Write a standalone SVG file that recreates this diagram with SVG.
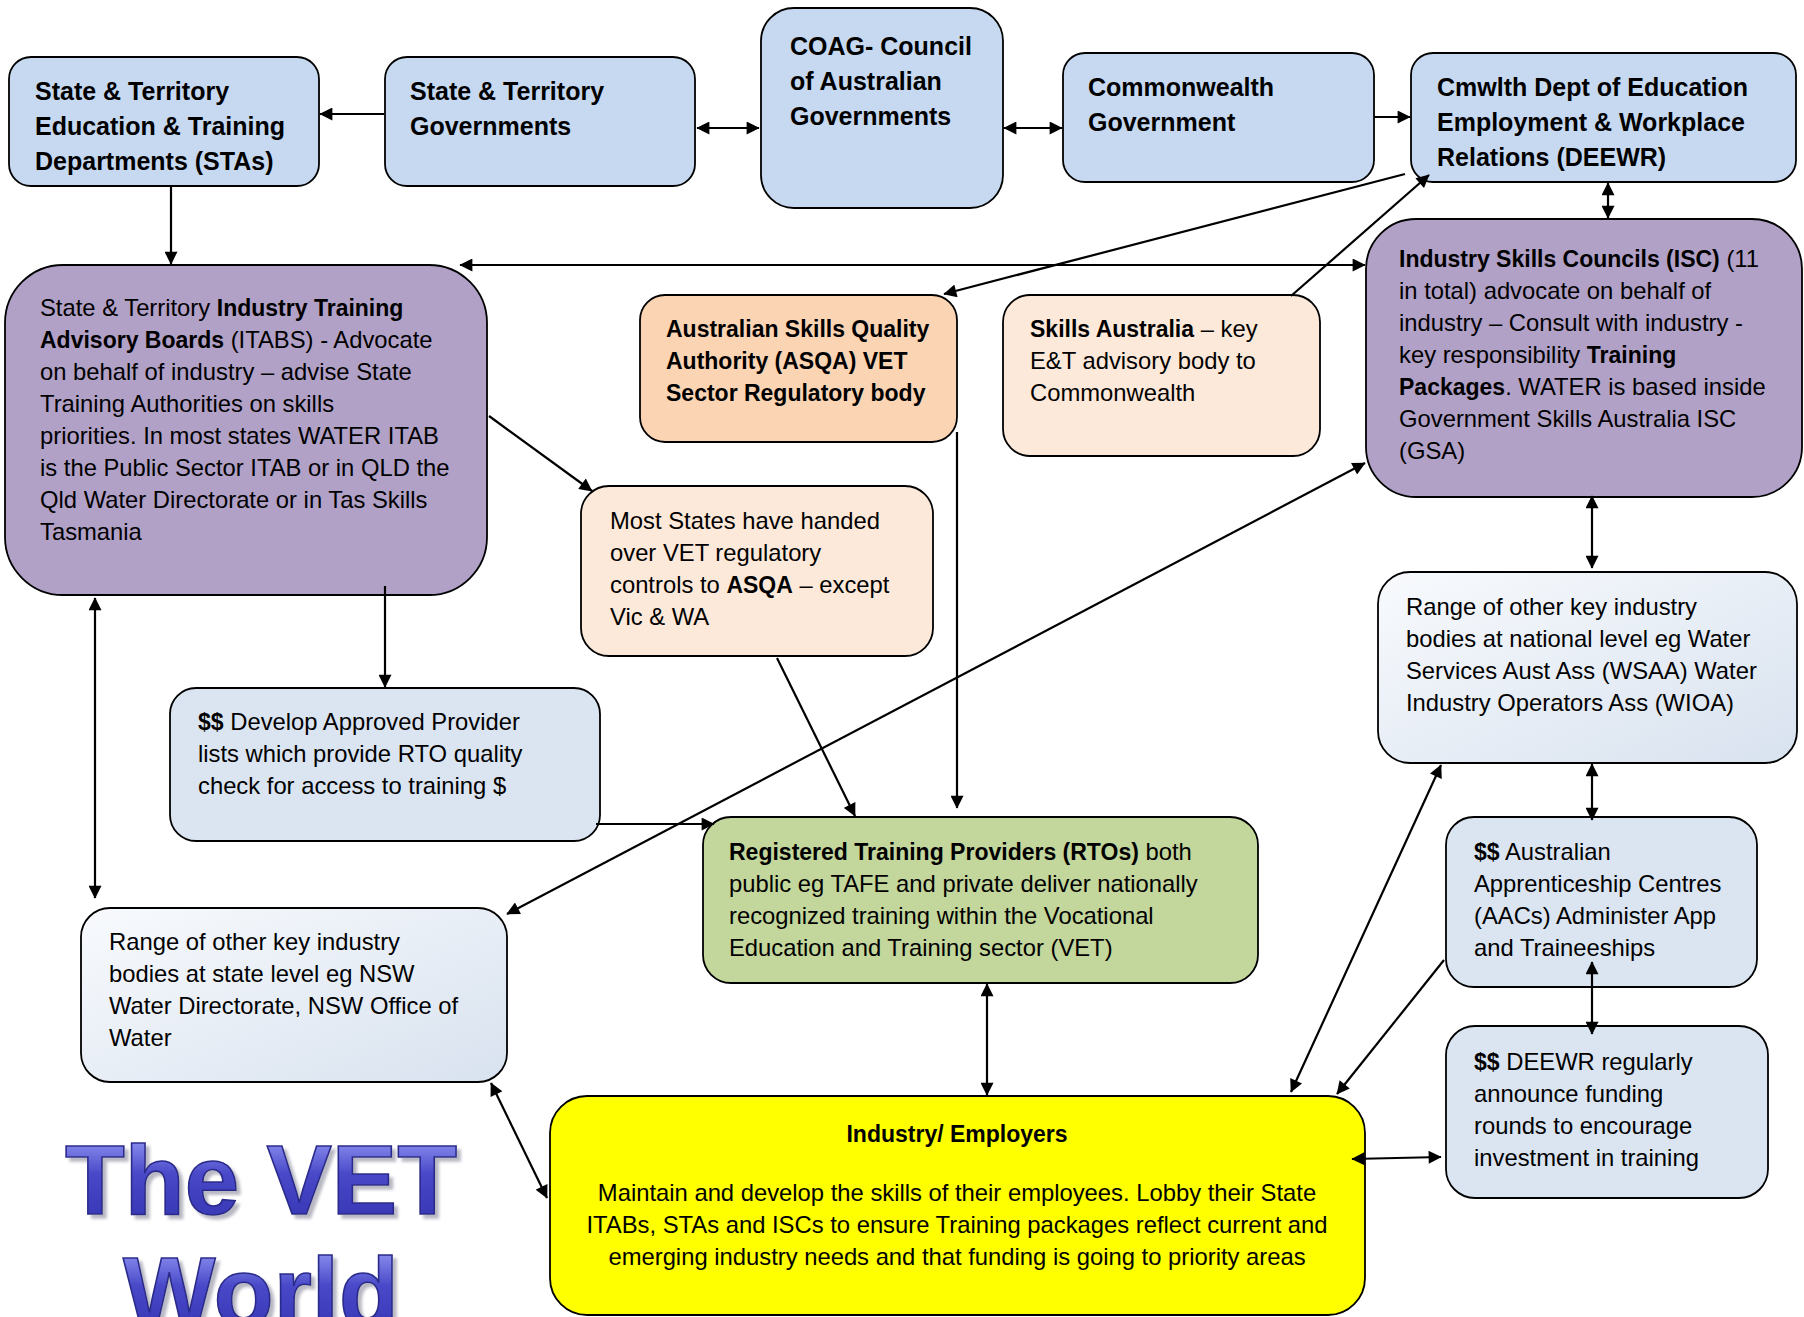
<svg xmlns="http://www.w3.org/2000/svg" width="1804" height="1317" viewBox="0 0 1804 1317">
<style>
.bx{stroke:#000;stroke-width:1.8}
.t{font-family:'Liberation Sans',Arial,sans-serif;font-size:23.8px;fill:#000}
.tt{font-family:'Liberation Sans',Arial,sans-serif;font-size:25px;font-weight:bold;fill:#000}
.b{font-weight:bold;font-size:23px}
.yb{font-size:23.8px}
.c{fill:none;stroke:#000;stroke-width:2.2}
.wa{font-family:'Liberation Sans',Arial,sans-serif;font-weight:bold;font-size:98px;fill:url(#wg);stroke:#2b2b8c;stroke-width:1.6;text-anchor:middle;filter:url(#sh)}
</style>
<defs>
<marker id="ah" viewBox="0 0 10 10" refX="9.5" refY="5" markerWidth="15" markerHeight="13" markerUnits="userSpaceOnUse" orient="auto-start-reverse"><path d="M0,0 L10,5 L0,10 z" fill="#000"/></marker>
<linearGradient id="lg" x1="0" y1="0" x2="1" y2="1"><stop offset="0" stop-color="#f8fafd"/><stop offset="1" stop-color="#d8e2ef"/></linearGradient>
<linearGradient id="wg" x1="0" y1="0" x2="0" y2="1"><stop offset="0" stop-color="#a8acff"/><stop offset="0.45" stop-color="#4848c8"/><stop offset="0.8" stop-color="#3a3ab8"/><stop offset="1" stop-color="#7a7ae8"/></linearGradient>
<filter id="sh" x="-10%" y="-20%" width="130%" height="150%"><feDropShadow dx="4" dy="4" stdDeviation="1.5" flood-color="#9a9aaa" flood-opacity="0.7"/></filter>
</defs>
<rect width="1804" height="1317" fill="#fff"/>

<g id="stas"><rect class="bx" x="9" y="57" width="310" height="129" rx="22" fill="#c6d9f1"/>
<text class="tt" x="35" y="100">State &amp; Territory</text><text class="tt" x="35" y="135">Education &amp; Training</text><text class="tt" x="35" y="170">Departments (STAs)</text></g>

<g id="stgov"><rect class="bx" x="385" y="57" width="310" height="129" rx="22" fill="#c6d9f1"/>
<text class="tt" x="410" y="100">State &amp; Territory</text><text class="tt" x="410" y="135">Governments</text></g>

<g id="coag"><rect class="bx" x="761" y="8" width="242" height="200" rx="33" fill="#c6d9f1"/>
<text class="tt" x="790" y="55">COAG- Council</text><text class="tt" x="790" y="90">of Australian</text><text class="tt" x="790" y="125">Governments</text></g>

<g id="cwgov"><rect class="bx" x="1063" y="53" width="311" height="129" rx="22" fill="#c6d9f1"/>
<text class="tt" x="1088" y="96">Commonwealth</text><text class="tt" x="1088" y="131">Government</text></g>

<g id="deewr"><rect class="bx" x="1411" y="53" width="385" height="129" rx="22" fill="#c6d9f1"/>
<text class="tt" x="1437" y="96">Cmwlth Dept of Education</text><text class="tt" x="1437" y="131">Employment &amp; Workplace</text><text class="tt" x="1437" y="166">Relations (DEEWR)</text></g>

<g id="itabs"><rect class="bx" x="5" y="265" width="482" height="330" rx="58" fill="#b2a1c7"/>
<text class="t" x="40" y="316">State &amp; Territory <tspan class="b">Industry Training</tspan></text>
<text class="t" x="40" y="348"><tspan class="b">Advisory Boards</tspan> (ITABS) - Advocate</text>
<text class="t" x="40" y="380">on behalf of industry – advise State</text>
<text class="t" x="40" y="412">Training Authorities on skills</text>
<text class="t" x="40" y="444">priorities. In most states WATER ITAB</text>
<text class="t" x="40" y="476">is the Public Sector ITAB or in QLD the</text>
<text class="t" x="40" y="508">Qld Water Directorate or in Tas Skills</text>
<text class="t" x="40" y="540">Tasmania</text></g>

<g id="asqa"><rect class="bx" x="640" y="295" width="317" height="147" rx="25" fill="#fbd4b4"/>
<text class="t b" x="666" y="337">Australian Skills Quality</text><text class="t b" x="666" y="369">Authority (ASQA) VET</text><text class="t b" x="666" y="401">Sector Regulatory body</text></g>

<g id="skillsaus"><rect class="bx" x="1003" y="295" width="317" height="161" rx="27" fill="#fde9d9"/>
<text class="t" x="1030" y="337"><tspan class="b">Skills Australia</tspan> – key</text><text class="t" x="1030" y="369">E&amp;T advisory body to</text><text class="t" x="1030" y="401">Commonwealth</text></g>

<g id="isc"><rect class="bx" x="1366" y="219" width="436" height="278" rx="50" fill="#b2a1c7"/>
<text class="t" x="1399" y="267"><tspan class="b">Industry Skills Councils (ISC)</tspan> (11</text>
<text class="t" x="1399" y="299">in total) advocate on behalf of</text>
<text class="t" x="1399" y="331">industry – Consult with industry -</text>
<text class="t" x="1399" y="363">key responsibility <tspan class="b">Training</tspan></text>
<text class="t" x="1399" y="395"><tspan class="b">Packages</tspan>. WATER is based inside</text>
<text class="t" x="1399" y="427">Government Skills Australia ISC</text>
<text class="t" x="1399" y="459">(GSA)</text></g>

<g id="moststates"><rect class="bx" x="581" y="486" width="352" height="170" rx="28" fill="#fde9d9"/>
<text class="t" x="610" y="529">Most States have handed</text><text class="t" x="610" y="561">over VET regulatory</text><text class="t" x="610" y="593">controls to <tspan class="b">ASQA</tspan> – except</text><text class="t" x="610" y="625">Vic &amp; WA</text></g>

<g id="national"><rect class="bx" x="1378" y="572" width="419" height="191" rx="32" fill="url(#lg)"/>
<text class="t" x="1406" y="615">Range of other key industry</text><text class="t" x="1406" y="647">bodies at national level eg Water</text><text class="t" x="1406" y="679">Services Aust Ass (WSAA) Water</text><text class="t" x="1406" y="711">Industry Operators Ass (WIOA)</text></g>

<g id="approved"><rect class="bx" x="170" y="688" width="430" height="153" rx="26" fill="#dbe5f1"/>
<text class="t" x="198" y="730"><tspan class="b">$$</tspan> Develop Approved Provider</text><text class="t" x="198" y="762">lists which provide RTO quality</text><text class="t" x="198" y="794">check for access to training $</text></g>

<g id="statelevel"><rect class="bx" x="81" y="908" width="426" height="174" rx="29" fill="url(#lg)"/>
<text class="t" x="109" y="950">Range of other key industry</text><text class="t" x="109" y="982">bodies at state level eg NSW</text><text class="t" x="109" y="1014">Water Directorate, NSW Office of</text><text class="t" x="109" y="1046">Water</text></g>

<g id="rtos"><rect class="bx" x="703" y="817" width="555" height="166" rx="28" fill="#c3d69b"/>
<text class="t" x="729" y="860"><tspan class="b">Registered Training Providers (RTOs)</tspan> both</text><text class="t" x="729" y="892">public eg TAFE and private deliver nationally</text><text class="t" x="729" y="924">recognized training within the Vocational</text><text class="t" x="729" y="956">Education and Training sector (VET)</text></g>

<g id="aacs"><rect class="bx" x="1446" y="817" width="311" height="170" rx="28" fill="#dbe5f1"/>
<text class="t" x="1474" y="860"><tspan class="b">$$</tspan> Australian</text><text class="t" x="1474" y="892">Apprenticeship Centres</text><text class="t" x="1474" y="924">(AACs) Administer App</text><text class="t" x="1474" y="956">and Traineeships</text></g>

<g id="funding"><rect class="bx" x="1446" y="1026" width="322" height="172" rx="29" fill="#dbe5f1"/>
<text class="t" x="1474" y="1070"><tspan class="b">$$</tspan> DEEWR regularly</text><text class="t" x="1474" y="1102">announce funding</text><text class="t" x="1474" y="1134">rounds to encourage</text><text class="t" x="1474" y="1166">investment in training</text></g>

<g id="industry"><rect class="bx" x="550" y="1096" width="815" height="219" rx="37" fill="#ffff00"/>
<text class="t b" x="957" y="1142" text-anchor="middle">Industry/ Employers</text>
<text class="t yb" x="957" y="1201" text-anchor="middle">Maintain and develop the skills of their employees. Lobby their State</text>
<text class="t yb" x="957" y="1233" text-anchor="middle">ITABs, STAs and ISCs to ensure Training packages reflect current and</text>
<text class="t yb" x="957" y="1265" text-anchor="middle">emerging industry needs and that funding is going to priority areas</text></g>

<g id="title">
<text class="wa" x="261" y="1214">The VET</text>
<text class="wa" x="261" y="1326">World</text>
</g>

<g id="connectors">
<path class="c" d="M384,114 L320,114" marker-end="url(#ah)"/>
<path class="c" d="M697,128 L759,128" marker-start="url(#ah)" marker-end="url(#ah)"/>
<path class="c" d="M1004,128 L1062,128" marker-start="url(#ah)" marker-end="url(#ah)"/>
<path class="c" d="M1374,117 L1410,117" marker-end="url(#ah)"/>
<path class="c" d="M171,187 L171,264" marker-end="url(#ah)"/>
<path class="c" d="M1608,183 L1608,218" marker-start="url(#ah)" marker-end="url(#ah)"/>
<path class="c" d="M460,265 L1365,265" marker-start="url(#ah)" marker-end="url(#ah)"/>
<path class="c" d="M1405,174 L944,294" marker-end="url(#ah)"/>
<path class="c" d="M1291,296 L1429,175" marker-end="url(#ah)"/>
<path class="c" d="M957,432 L957,808" marker-end="url(#ah)"/>
<path class="c" d="M489,416 L592,491" marker-end="url(#ah)"/>
<path class="c" d="M777,658 L855,816" marker-end="url(#ah)"/>
<path class="c" d="M385,586 L385,687" marker-end="url(#ah)"/>
<path class="c" d="M95,598 L95,898" marker-start="url(#ah)" marker-end="url(#ah)"/>
<path class="c" d="M596,824 L714,824" marker-end="url(#ah)"/>
<path class="c" d="M1365,463 L507,914" marker-start="url(#ah)" marker-end="url(#ah)"/>
<path class="c" d="M987,984 L987,1095" marker-start="url(#ah)" marker-end="url(#ah)"/>
<path class="c" d="M1592,496 L1592,568" marker-start="url(#ah)" marker-end="url(#ah)"/>
<path class="c" d="M1592,764 L1592,820" marker-start="url(#ah)" marker-end="url(#ah)"/>
<path class="c" d="M1592,962 L1592,1034" marker-start="url(#ah)" marker-end="url(#ah)"/>
<path class="c" d="M1441,765 L1291,1092" marker-start="url(#ah)" marker-end="url(#ah)"/>
<path class="c" d="M1444,960 L1337,1094" marker-end="url(#ah)"/>
<path class="c" d="M1352,1159 L1441,1157" marker-start="url(#ah)" marker-end="url(#ah)"/>
<path class="c" d="M491,1083 L547,1198" marker-start="url(#ah)" marker-end="url(#ah)"/>
</g>
</svg>
